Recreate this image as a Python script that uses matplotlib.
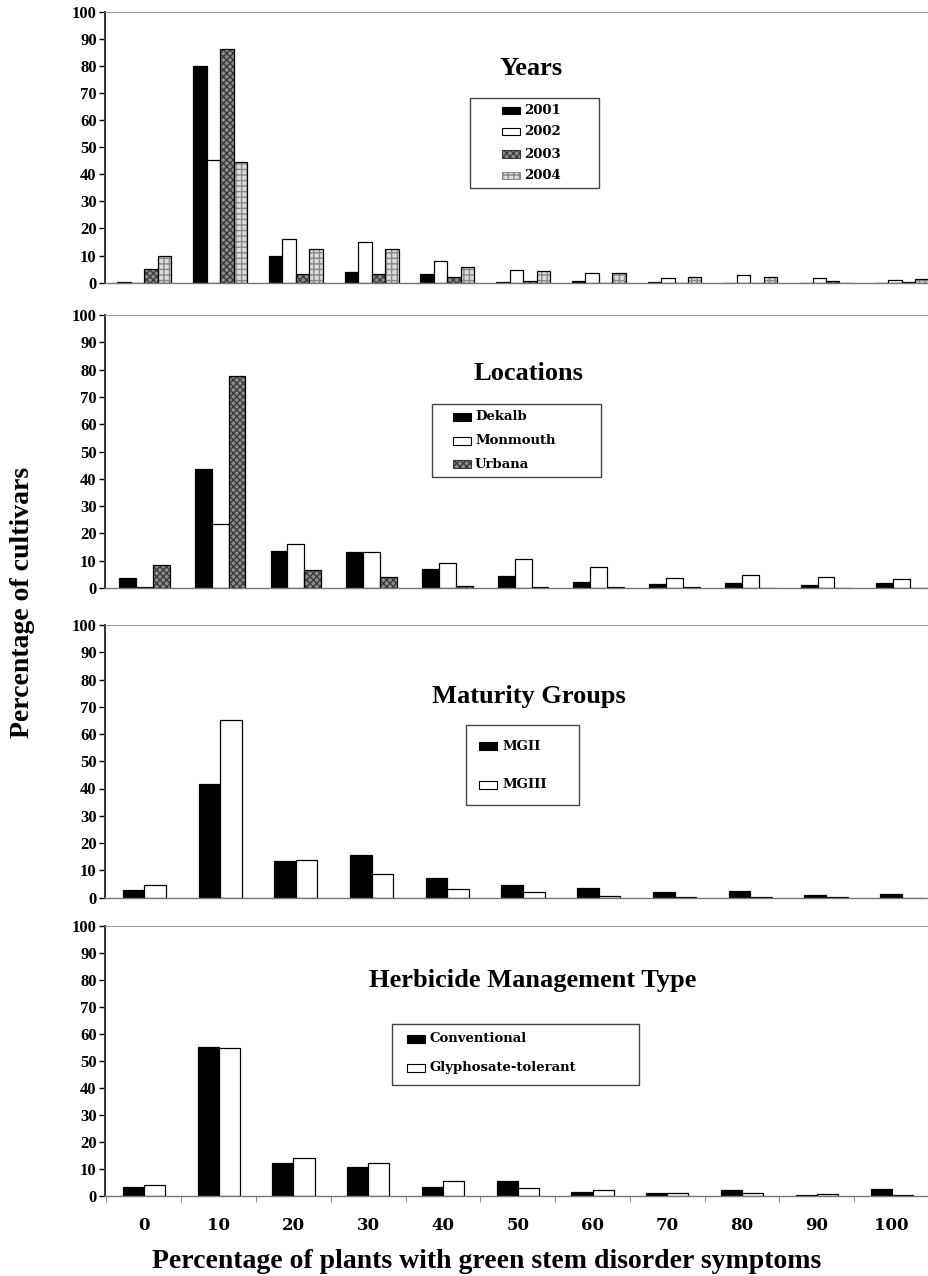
import numpy as np
import matplotlib
matplotlib.use("Agg")
import matplotlib.pyplot as plt
from matplotlib.patches import Rectangle

# x categories: percentage of plants with symptoms
categories = ["0", "10", "20", "30", "40", "50", "60", "70", "80", "90", "100"]

# Years
y2001 = [0.4, 80, 10, 4.1, 3.1, 0.3, 0.7, 0.2, 0, 0, 0]
y2002 = [0, 45.2, 16, 15.2, 8.1, 4.6, 3.7, 1.6, 2.8, 1.6, 1.0]
y2003 = [5.2, 86.2, 3.2, 3.2, 2.0, 0.5, 0, 0, 0, 0.6, 0.2]
y2004 = [9.8, 44.7, 12.3, 12.6, 5.8, 4.3, 3.4, 2.2, 2.2, 0, 1.2]

# Locations
dekalb = [3.6, 43.5, 13.6, 13.3, 7.0, 4.5, 2.3, 1.6, 1.8, 1.0, 2.0]
monmouth = [0.2, 23.5, 16.0, 13.3, 9.0, 10.8, 7.8, 3.5, 4.7, 4.0, 3.2]
urbana = [8.4, 77.5, 6.6, 4.0, 0.6, 0.5, 0.5, 0.4, 0, 0, 0]

# Maturity groups
mg2 = [2.7, 41.5, 13.5, 15.5, 7.2, 4.7, 3.6, 2.0, 2.4, 1.1, 1.4]
mg3 = [4.7, 65.3, 13.8, 8.8, 3.2, 1.9, 0.6, 0.2, 0.3, 0.1, 0]

# Herbicide management type
conv = [3.5, 55.3, 12.2, 10.6, 3.3, 5.4, 1.3, 1.2, 2.2, 0.3, 2.6]
gly = [3.9, 54.8, 14.0, 12.3, 5.6, 2.9, 2.4, 1.2, 1.1, 0.7, 0.4]

W, H = 929, 1276
SERIF = "Liberation Serif"
WIDE = "DejaVu Serif"

# bar styles
BLACK = dict(facecolor="black", hatch=None, hcolor=None)
WHITE = dict(facecolor="white", hatch=None, hcolor=None)
DARKH = dict(facecolor="#8c8c8c", hatch="xxxxx", hcolor="#3c3c3c")
LIGHTH = dict(facecolor="#dcdcdc", hatch="+++", hcolor="#888888")


def fx(px):
    return px / W


def fy(py):
    return 1 - py / H


def draw_bars(ax, x, vals, width, st):
    if st["hatch"]:
        ax.bar(x, vals, width, color=st["facecolor"], hatch=st["hatch"],
               edgecolor=st["hcolor"], linewidth=0)
        ax.bar(x, vals, width, fill=False, edgecolor="black", linewidth=0.9)
    else:
        ax.bar(x, vals, width, color=st["facecolor"], edgecolor="black",
               linewidth=0.9)


def draw_key(fig, box, sw_x, txt_x, rows, labels, styles, fs=9.5):
    x0, y0, x1, y1 = box
    fig.patches.append(Rectangle((fx(x0), fy(y1)), fx(x1 - x0), (y1 - y0) / H,
                                 transform=fig.transFigure, fill=False,
                                 edgecolor="#444444", linewidth=1.0))
    for yc, lab, st in zip(rows, labels, styles):
        r = Rectangle((fx(sw_x), fy(yc + 3.7)), fx(18), 7.4 / H,
                      transform=fig.transFigure, facecolor=st["facecolor"],
                      edgecolor=st["hcolor"] or "black", linewidth=0.8,
                      hatch=st["hatch"])
        fig.patches.append(r)
        fig.text(fx(txt_x), fy(yc), lab, ha="left", va="center",
                 fontsize=fs, fontweight="bold", family=WIDE)


fig = plt.figure(figsize=(W / 100, H / 100), dpi=100)

# panel extents in pixels: (y of 100, y of 0)
panels = [(11.7, 282.7), (315, 588), (625, 897.5), (926, 1196)]
x = np.arange(len(categories))
axes = []
for i, (ptop, pbot) in enumerate(panels):
    ax = fig.add_axes([fx(105), fy(pbot), fx(W - 105), (pbot - ptop) / H])
    ax.set_xlim(-0.52, 10.36)
    ax.set_ylim(0, 100)
    ax.set_yticks(range(0, 101, 10))
    ax.set_yticklabels([str(v) for v in range(0, 101, 10)],
                       fontsize=12, fontweight="bold", family=SERIF)
    ax.tick_params(axis="y", direction="out", length=4, width=1, pad=2)
    ax.spines["right"].set_visible(False)
    ax.spines["top"].set_color("#999999")
    ax.spines["top"].set_linestyle((0, (1, 1)))
    ax.spines["left"].set_color("#333333")
    ax.spines["left"].set_linewidth(1.4)
    ax.spines["bottom"].set_color("#777777")
    ax.spines["bottom"].set_linewidth(1.0)
    if i < 3:
        ax.set_xticks([])
    else:
        ax.set_xticks(x)
        ax.set_xticklabels(categories, fontsize=12, fontweight="bold", family=WIDE)
        ax.tick_params(axis="x", which="major", length=0, pad=15)
        ax.set_xticks(np.arange(-0.5, 10.6, 1), minor=True)
        ax.tick_params(axis="x", which="minor", direction="out", length=4,
                       color="#777777")
    axes.append(ax)

# Years
w = 0.178
for k, (vals, st) in enumerate(zip([y2001, y2002, y2003, y2004],
                                   [BLACK, WHITE, DARKH, LIGHTH])):
    draw_bars(axes[0], x + (k - 1.5) * w, vals, w, st)

# Locations
w = 0.223
for k, (vals, st) in enumerate(zip([dekalb, monmouth, urbana],
                                   [BLACK, WHITE, DARKH])):
    draw_bars(axes[1], x + (k - 1) * w, vals, w, st)

# Maturity groups
w = 0.285
for k, (vals, st) in enumerate(zip([mg2, mg3], [BLACK, WHITE])):
    draw_bars(axes[2], x + (k - 0.5) * w, vals, w, st)

# Herbicide
w = 0.282
for k, (vals, st) in enumerate(zip([conv, gly], [BLACK, WHITE])):
    draw_bars(axes[3], x + (k - 0.5) * w, vals, w, st)

# panel titles
for txt, px, py in [("Years", 531, 75), ("Locations", 528, 380),
                    ("Maturity Groups", 529, 703),
                    ("Herbicide Management Type", 533, 987)]:
    fig.text(fx(px), fy(py), txt, ha="center", va="baseline", fontsize=19,
             fontweight="bold", family=SERIF)

# keys
draw_key(fig, (470, 98, 599, 188), 502, 524, [110.7, 131.7, 154, 175.7],
         ["2001", "2002", "2003", "2004"], [BLACK, WHITE, DARKH, LIGHTH])
draw_key(fig, (432, 404, 601, 477), 453, 475, [417, 441, 464],
         ["Dekalb", "Monmouth", "Urbana"], [BLACK, WHITE, DARKH])
draw_key(fig, (466, 725, 579, 805), 479, 502, [746, 785],
         ["MGII", "MGIII"], [BLACK, WHITE])
draw_key(fig, (392, 1024, 639, 1085), 407, 430, [1039, 1068],
         ["Conventional", "Glyphosate-tolerant"], [BLACK, WHITE])

# axis titles
fig.text(fx(23), fy(602), "Percentage of cultivars", rotation=90,
         ha="center", va="center", fontsize=20, fontweight="bold", family=SERIF)
fig.text(fx(487), fy(1261), "Percentage of plants with green stem disorder symptoms",
         ha="center", va="center", fontsize=20, fontweight="bold", family=SERIF)

fig.savefig("out.png", dpi=100)
